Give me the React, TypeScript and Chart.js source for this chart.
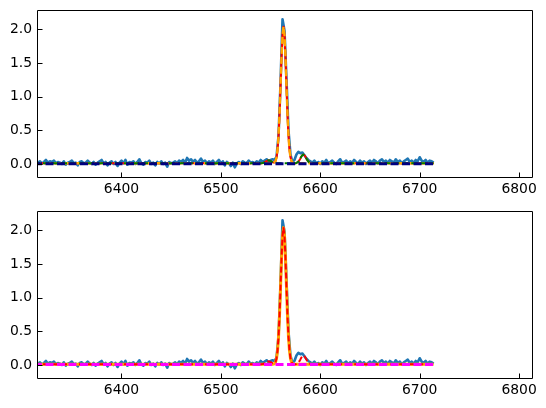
import React, { useEffect, useRef } from 'react';
import { Chart, registerables } from 'chart.js';
Chart.register(...registerables);

// Observed spectrum: wavelength grid start / step (Å) and flux values
const WAVE_START = 6312;
const WAVE_STEP = 2;
const flux = [
  0.03, 0.05, 0.02, 0.04, 0.01, 0.03, 0.06, 0.02, 0.04, 0.03,
  0.05, 0.01, 0.03, 0.02, 0.00, 0.04, -0.01, 0.02, 0.03, 0.05,
  0.01, 0.02, -0.02, 0.03, 0.04, 0.01, 0.02, 0.05, 0.02, 0.00,
  0.03, -0.01, 0.02, 0.04, 0.06, 0.01, 0.03, -0.02, 0.02, 0.04,
  0.00, 0.03, -0.03, 0.02, 0.05, 0.01, 0.06, -0.01, 0.03, 0.02,
  0.04, 0.00, 0.03, 0.07, 0.01, -0.01, 0.03, 0.02, 0.05, 0.00,
  0.02, -0.02, 0.03, 0.01, 0.04, 0.00, 0.02, -0.04, 0.03, 0.01,
  0.02, 0.04, 0.01, 0.05, 0.03, 0.06, 0.02, 0.09, 0.05, 0.07,
  0.03, 0.06, 0.02, 0.04, 0.08, 0.03, 0.05, 0.01, 0.04, 0.02,
  0.05, 0.00, 0.03, 0.06, 0.01, 0.04, -0.02, 0.03, 0.01, -0.03,
  0.02, -0.05, 0.01, 0.03, 0.00, 0.04, 0.02, 0.01, 0.05, 0.02,
  0.03, 0.01, 0.04, 0.02, 0.06, 0.03, 0.05, 0.07, 0.04, 0.06,
  0.07, 0.06, 0.11, 0.42, 1.20, 2.15, 1.98, 1.25, 0.50, 0.14,
  0.03, 0.06, 0.14, 0.18, 0.16, 0.17, 0.13, 0.09, 0.06, 0.04,
  0.02, 0.05, 0.01, 0.03, 0.00, 0.04, 0.02, 0.06, 0.01, 0.03,
  0.05, 0.02, 0.00, 0.04, 0.07, 0.02, 0.03, 0.05, 0.01, 0.04,
  0.02, 0.06, 0.03, 0.01, 0.05, 0.02, 0.04, 0.00, 0.03, 0.05,
  0.02, 0.06, 0.04, 0.01, 0.05, 0.07, 0.03, 0.05, 0.02, 0.06,
  0.04, 0.02, 0.07, 0.03, 0.05, 0.01, 0.04, 0.06, 0.08, 0.03,
  0.05, 0.02, 0.06, 0.04, 0.10, 0.05, 0.03, 0.06, 0.02, 0.05,
  0.04, 0.02,
];

// Model curves (Å grid around the lines), padded to data ends with continuum
const modelWave = [
  6312,
  6540, 6541, 6542, 6543, 6544, 6545, 6546, 6547, 6548, 6549,
  6550, 6551, 6552, 6553, 6554, 6555, 6556, 6557, 6558, 6559,
  6560, 6561, 6562, 6563, 6564, 6565, 6566, 6567, 6568, 6569,
  6570, 6571, 6572, 6573, 6574, 6575, 6576, 6577, 6578, 6579,
  6580, 6581, 6582, 6583, 6584, 6585, 6586, 6587, 6588, 6589,
  6590, 6591, 6592, 6593,
  6714,
];
const modelTotal = [
  0.010,
  0.010, 0.011, 0.014, 0.019, 0.026, 0.035, 0.044, 0.051, 0.054, 0.051,
  0.044, 0.035, 0.026, 0.022, 0.026, 0.045, 0.099, 0.214, 0.422, 0.741,
  1.153, 1.583, 1.915, 2.040, 1.915, 1.583, 1.153, 0.741, 0.422, 0.214,
  0.099, 0.044, 0.022, 0.013, 0.011, 0.012, 0.016, 0.023, 0.036, 0.057,
  0.083, 0.111, 0.132, 0.140, 0.132, 0.111, 0.083, 0.057, 0.036, 0.023,
  0.016, 0.012, 0.011, 0.010,
  0.010,
];
const modelHalpha = [
  0.010,
  0.010, 0.010, 0.010, 0.010, 0.010, 0.010, 0.010, 0.010, 0.010, 0.010,
  0.010, 0.010, 0.010, 0.013, 0.022, 0.044, 0.099, 0.214, 0.422, 0.741,
  1.153, 1.583, 1.915, 2.040, 1.915, 1.583, 1.153, 0.741, 0.422, 0.214,
  0.099, 0.044, 0.022, 0.013, 0.010, 0.010, 0.010, 0.010, 0.010, 0.010,
  0.010, 0.010, 0.010, 0.010, 0.010, 0.010, 0.010, 0.010, 0.010, 0.010,
  0.010, 0.010, 0.010, 0.010,
  0.010,
];
const modelNII = [
  0.010,
  0.010, 0.011, 0.014, 0.019, 0.026, 0.035, 0.044, 0.051, 0.054, 0.051,
  0.044, 0.035, 0.026, 0.019, 0.014, 0.011, 0.010, 0.010, 0.010, 0.010,
  0.010, 0.010, 0.010, 0.010, 0.010, 0.010, 0.010, 0.010, 0.010, 0.010,
  0.010, 0.010, 0.010, 0.010, 0.011, 0.012, 0.016, 0.023, 0.036, 0.057,
  0.083, 0.111, 0.132, 0.140, 0.132, 0.111, 0.083, 0.057, 0.036, 0.023,
  0.016, 0.012, 0.011, 0.010,
  0.010,
];
const contWave = [6312, 6714];
const contTop = [0.004, 0.004];
const contBottom = [0.008, 0.008];

const xTicks = [6400, 6500, 6600, 6700, 6800];
const yTicks = [0.0, 0.5, 1.0, 1.5, 2.0];
const X_MIN = 6315;
const X_MAX = 6814;
const Y_MIN = -0.208;
const Y_MAX = 2.287;

const pts = (xs: number[], ys: number[]) => xs.map((x, i) => ({ x, y: ys[i] }));
const dataPts = flux.map((y, i) => ({ x: WAVE_START + WAVE_STEP * i, y }));

const framePlugin = {
  id: 'frame',
  afterDraw(chart: any) {
    const { ctx, chartArea: a, scales } = chart;
    ctx.save();
    ctx.strokeStyle = '#000';
    ctx.lineWidth = 1;
    ctx.beginPath();
    const L = Math.round(a.left) + 0.5, R = Math.round(a.right) - 0.5;
    const T = Math.round(a.top) + 0.5, B = Math.round(a.bottom) - 0.5;
    ctx.rect(L, T, R - L, B - T);
    scales.x.ticks.forEach((t: any) => {
      const px = Math.round(scales.x.getPixelForValue(t.value)) + 0.5;
      ctx.moveTo(px, B);
      ctx.lineTo(px, B - 5);
    });
    scales.y.ticks.forEach((t: any) => {
      const py = Math.round(scales.y.getPixelForValue(t.value)) + 0.5;
      ctx.moveTo(L, py);
      ctx.lineTo(L + 5, py);
    });
    ctx.stroke();
    ctx.restore();
  },
};

const font = { family: "'DejaVu Sans'", size: 13.9 };

function makeOptions(padTop: number, xAxisHeight: number) {
  return {
    responsive: false,
    animation: false as const,
    layout: { padding: { top: padTop, right: 13, left: 0, bottom: 0 } },
    plugins: { legend: { display: false }, tooltip: { enabled: false } },
    elements: { point: { radius: 0 }, line: { tension: 0 } },
    scales: {
      x: {
        type: 'linear' as const,
        min: X_MIN,
        max: X_MAX,
        grid: { display: true, drawOnChartArea: false, drawTicks: false },
        border: { display: false },
        ticks: { color: '#000', font, padding: 3, maxRotation: 0, autoSkip: false, callback: (v: any) => String(v) },
        afterBuildTicks: (s: any) => { s.ticks = xTicks.map((v) => ({ value: v })); },
        afterFit: (s: any) => { s.height = xAxisHeight; s.paddingLeft = 0; s.paddingRight = 0; },
      },
      y: {
        type: 'linear' as const,
        min: Y_MIN,
        max: Y_MAX,
        grid: { display: true, drawOnChartArea: false, drawTicks: false },
        border: { display: false },
        ticks: { color: '#000', font, padding: 5, autoSkip: false, callback: (v: any) => Number(v).toFixed(1) },
        afterBuildTicks: (s: any) => { s.ticks = yTicks.map((v) => ({ value: v })); },
        afterFit: (s: any) => { s.width = 37; s.paddingTop = 0; s.paddingBottom = 0; },
      },
    },
  };
}

function line(data: any[], color: string, width: number, dash: number[], order: number) {
  return {
    data,
    borderColor: color,
    backgroundColor: color,
    borderWidth: width,
    borderDash: dash,
    pointRadius: 0,
    fill: false,
    order,
    borderCapStyle: 'butt' as const,
    borderJoinStyle: 'round' as const,
  };
}

export default function App() {
  const topRef = useRef<HTMLCanvasElement>(null);
  const botRef = useRef<HTMLCanvasElement>(null);

  useEffect(() => {
    const c1 = new Chart(topRef.current!, {
      type: 'line',
      data: {
        datasets: [
          line(dataPts, '#1f77b4', 2.6, [], 10),
          line(pts(modelWave, modelTotal), '#ff0000', 2, [], 4),
          line(pts(modelWave, modelHalpha), '#ffa500', 2.4, [7, 3], 3),
          line(pts(modelWave, modelNII), '#008000', 2, [6, 3], 2),
          line(pts(contWave, contTop), '#000080', 3, [8, 3.5], 1),
        ],
      },
      options: makeOptions(10, 22) as any,
      plugins: [framePlugin],
    });
    const c2 = new Chart(botRef.current!, {
      type: 'line',
      data: {
        datasets: [
          line(dataPts, '#1f77b4', 2.6, [], 10),
          line(pts(modelWave, modelHalpha), '#ffa500', 3, [], 4),
          line(pts(modelWave, modelTotal), '#ff0000', 2, [6, 3], 3),
          line(pts(contWave, contBottom), '#ff00ff', 3, [8, 3.5], 2),
        ],
      },
      options: makeOptions(11, 29) as any,
      plugins: [framePlugin],
    });
    return () => { c1.destroy(); c2.destroy(); };
  }, []);

  return (
    <div style={{ position: 'fixed', left: 0, top: 0, width: 546, height: 408, background: '#fff' }}>
      <canvas ref={topRef} width={546} height={200}
        style={{ position: 'absolute', left: 0, top: 0, width: 546, height: 200 }} />
      <canvas ref={botRef} width={546} height={208}
        style={{ position: 'absolute', left: 0, top: 200, width: 546, height: 208 }} />
    </div>
  );
}
